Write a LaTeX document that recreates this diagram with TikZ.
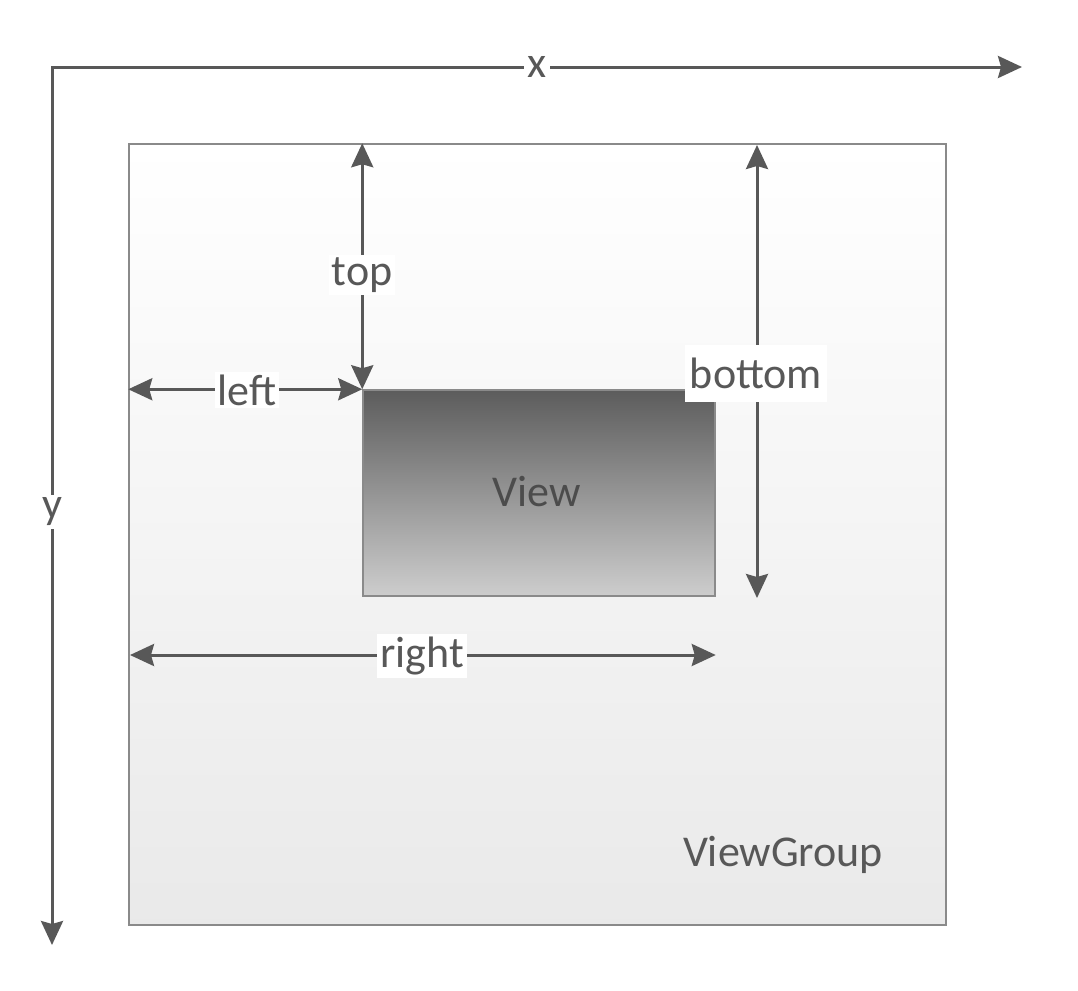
\documentclass[tikz,border=0pt]{standalone}
\usepackage{fontspec}
\setmainfont{Carlito}
\usetikzlibrary{arrows.meta}
\definecolor{ink}{HTML}{585858}
\definecolor{boxline}{HTML}{8A8A8A}
\definecolor{viewtop}{HTML}{5C5C5C}
\definecolor{viewbot}{HTML}{CDCDCD}
\tikzset{
  dim/.style={draw=ink, line width=3pt, {Stealth[length=24pt,width=22pt,inset=3pt]}-{Stealth[length=24pt,width=22pt,inset=3pt]}},
  lbl/.style={fill=white, text=ink, inner sep=3pt, font=\fontsize{44}{52}\selectfont},
  vgbox/.style={draw=boxline, line width=1.5pt, top color=white, middle color=gray!9, bottom color=gray!17, minimum width=817pt, minimum height=781pt, inner sep=0pt},
  viewbox/.style={draw=boxline, line width=1.5pt, top color=viewtop, bottom color=viewbot, minimum width=352pt, minimum height=206pt, inner sep=0pt},
  plain/.style={text=ink, font=\fontsize{44}{52}\selectfont, inner sep=0pt}
}
\begin{document}
\begin{tikzpicture}[x=1pt, y=-1pt]
\useasboundingbox (0,0) rectangle (1078,990);
% axes
\coordinate (o) at (52,67);
\coordinate (xe) at (1022,67);
\coordinate (ye) at (52,945);
\draw[dim] (xe) -- (o) -- (ye);
% boxes
\node[vgbox] (vg) at (537.5,534.5) {};
\node[viewbox] (v) at (539,493) {};
\node[plain] (vglbl) at (783,855) {ViewGroup};
\node[plain, text=black!70] (vlbl) at (537,492) {View};
% dimension anchors
\coordinate (topA) at (vg.north -| v.north west);
\coordinate (botA) at (757,145);
\coordinate (botB) at (757,598);
\coordinate (leftA) at (vg.west |- v.north west);
\coordinate (rightA) at (130,655);
\coordinate (rightB) at (v.east |- rightA);
\draw[dim] (topA) -- (v.north west);
\draw[dim] (leftA) -- (v.north west);
\draw[dim] (botA) -- (botB);
\draw[dim] (rightA) -- (rightB);
% labels
\node[lbl] (xl) at (537,67) {x};
\node[lbl] (yl) at (52,512) {y};
\node[lbl] (tl) at (362,275) {top};
\node[lbl] (ll) at (247,390) {left};
\node[lbl, minimum height=57pt, minimum width=142pt] (bl) at (756,373.5) {bottom};
\node[lbl] (rl) at (422,656) {right};
\end{tikzpicture}
\end{document}
